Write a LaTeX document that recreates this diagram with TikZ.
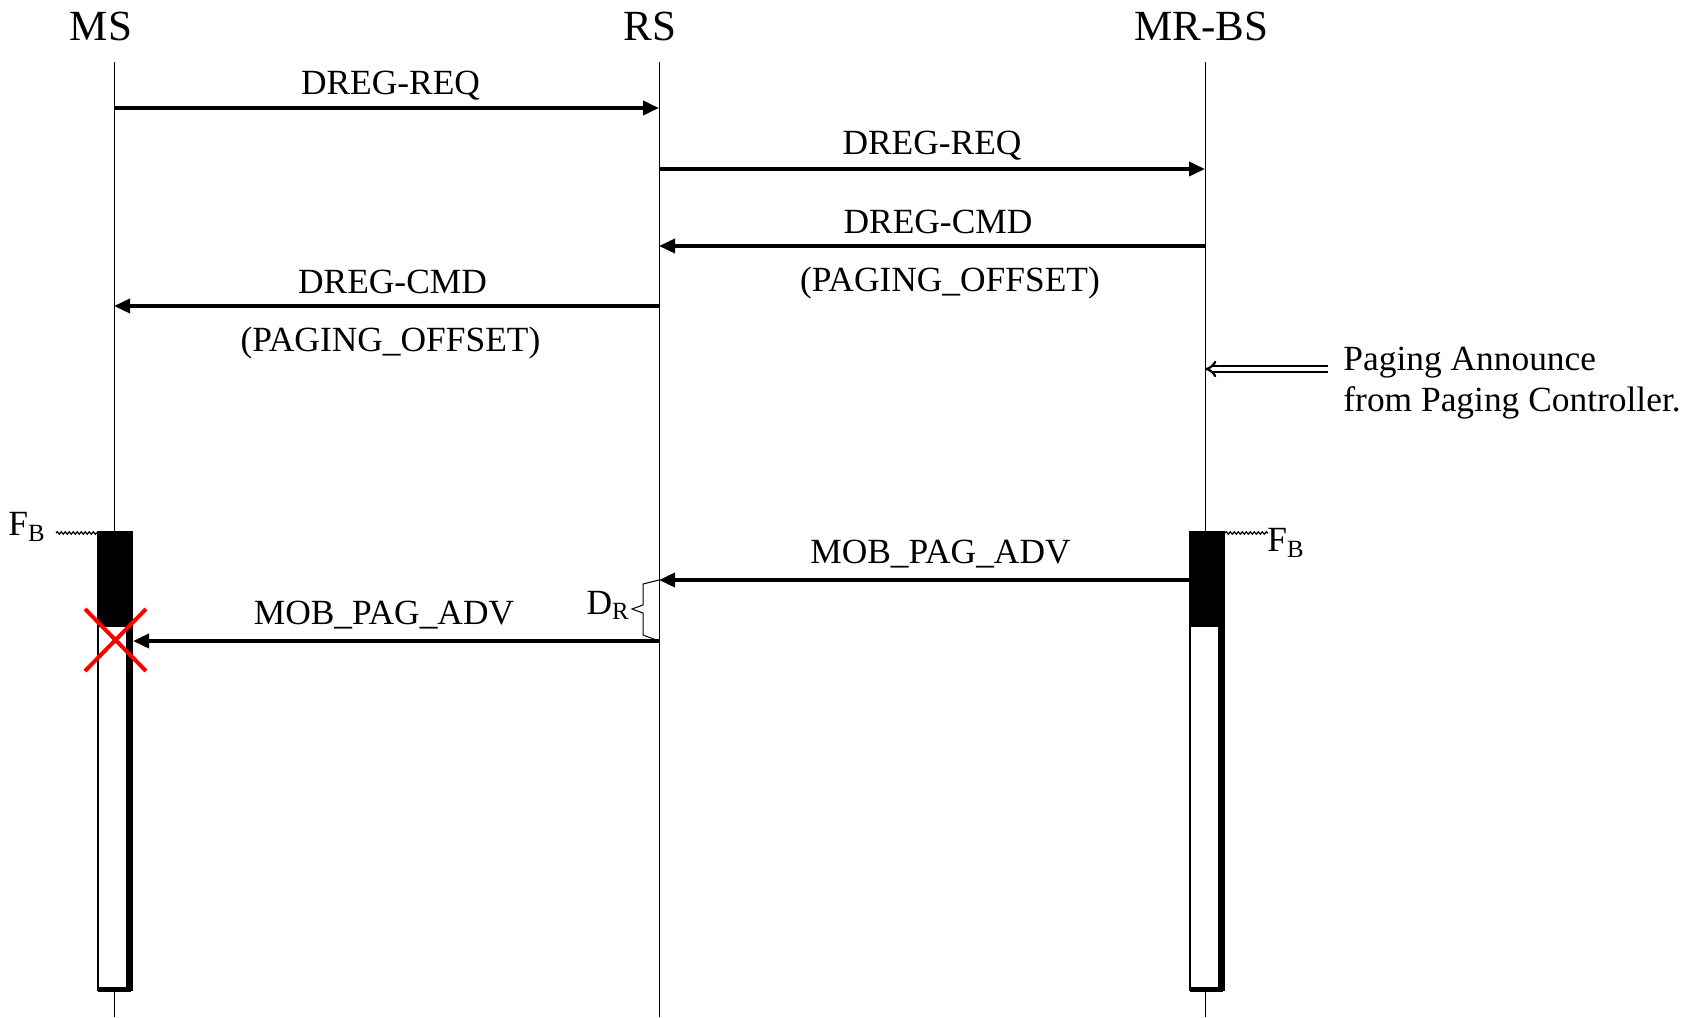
\documentclass[tikz,border=0pt]{standalone}
\usepackage{fontspec}
\setmainfont{Liberation Serif}
\usetikzlibrary{arrows.meta,decorations.pathmorphing}

\begin{document}
\begin{tikzpicture}[x=0.5pt,y=-0.5pt,
  head/.style={font=\fontsize{21.5}{24}\selectfont,inner sep=0pt},
  lab/.style={font=\fontsize{17.7}{20.5}\selectfont,inner sep=0pt},
  life/.style={line width=0.5pt},
  msg/.style={line width=1.8pt,-{Triangle[length=8pt,width=7pt]}},
  fb/.style={decorate,decoration={snake,amplitude=0.6pt,segment length=2pt},line width=0.6pt}]
\useasboundingbox (0,0) rectangle (1700,1017);
% entities and lifelines
\node[head] (ms) at (101,26) {MS};
\node[head] (rs) at (650,26) {RS};
\node[head] (bs) at (1201,26) {MR-BS};
\coordinate (ms0) at (114,62);  \coordinate (ms9) at (114,1017);
\coordinate (rs0) at (659,62);  \coordinate (rs9) at (659,1017);
\coordinate (bs0) at (1205,62); \coordinate (bs9) at (1205,1017);
\draw[life] (ms0) -- (ms9);
\draw[life] (rs0) -- (rs9);
\draw[life] (bs0) -- (bs9);
% activation bars
\foreach \x in {98,1190}{
  \fill[white] (\x,532) rectangle (\x+35,991);
  \draw[line width=0.8pt] (\x,532) rectangle (\x+34,990);
  \fill (\x,532) rectangle (\x+35,627);
  \draw[line width=2.6pt] (\x+30.5,532) -- (\x+30.5,989.5) -- (\x,989.5);
}
% message end points
\coordinate (ms1) at (114,108); \coordinate (rs1) at (659,108);
\coordinate (rs2) at (659,169); \coordinate (bs2) at (1205,169);
\coordinate (bs3) at (1205,246); \coordinate (rs3) at (659,246);
\coordinate (rs4) at (659,306); \coordinate (ms4) at (114,306);
\coordinate (bs5) at (1190,580); \coordinate (rs5) at (659,580);
\coordinate (rs6) at (659,641); \coordinate (ms6) at (133,641);
% messages
\draw[msg] (ms1) -- node[lab,yshift=11pt,xshift=2pt]{DREG-REQ} (rs1);
\draw[msg] (rs2) -- node[lab,yshift=11.5pt]{DREG-REQ} (bs2);
\draw[msg] (bs3) -- node[lab,yshift=12pt,xshift=3pt]{DREG-CMD}
  node[lab,yshift=-18.5pt,xshift=9pt]{(PAGING\_OFFSET)} (rs3);
\draw[msg] (rs4) -- node[lab,yshift=12pt,xshift=3pt]{DREG-CMD}
  node[lab,yshift=-18.5pt,xshift=2pt]{(PAGING\_OFFSET)} (ms4);
\draw[msg] (bs5) -- node[lab,yshift=13pt,xshift=8pt]{MOB\_PAG\_ADV} (rs5);
\draw[msg] (rs6) -- node[lab,yshift=13pt,xshift=-6pt]{MOB\_PAG\_ADV} (ms6);
% paging announce
\node[lab,anchor=west,align=left] (pa) at (1343,383) {Paging Announce\\from Paging Controller.};
\coordinate (pa0) at (1328,369); \coordinate (bs4) at (1205,369);
\draw[double,double distance=1.6pt,line width=1.1pt,-{Implies[length=7pt]}] (pa0) -- (bs4);
% frame boundaries
\node[lab] (fbl) at (27,527) {F\textsubscript{B}};
\node[lab] (fbr) at (1286,543) {F\textsubscript{B}};
\coordinate (fbl0) at (56,533); \coordinate (fbl1) at (98,533);
\coordinate (fbr0) at (1225,533); \coordinate (fbr1) at (1268,533);
\draw[fb] (fbl0) -- (fbl1);
\draw[fb] (fbr0) -- (fbr1);
% relay delay
\draw[line width=0.5pt] (rs5) -- (643,584) -- (643,605) -- (632,609) -- (643,613) -- (643,635) -- (rs6);
\node[lab,anchor=east] (dr) at (630,605) {D\textsubscript{R}};
% lost message
\draw[red,line width=2pt] (85,609) -- (146,671) (146,609) -- (85,671);
\end{tikzpicture}
\end{document}
